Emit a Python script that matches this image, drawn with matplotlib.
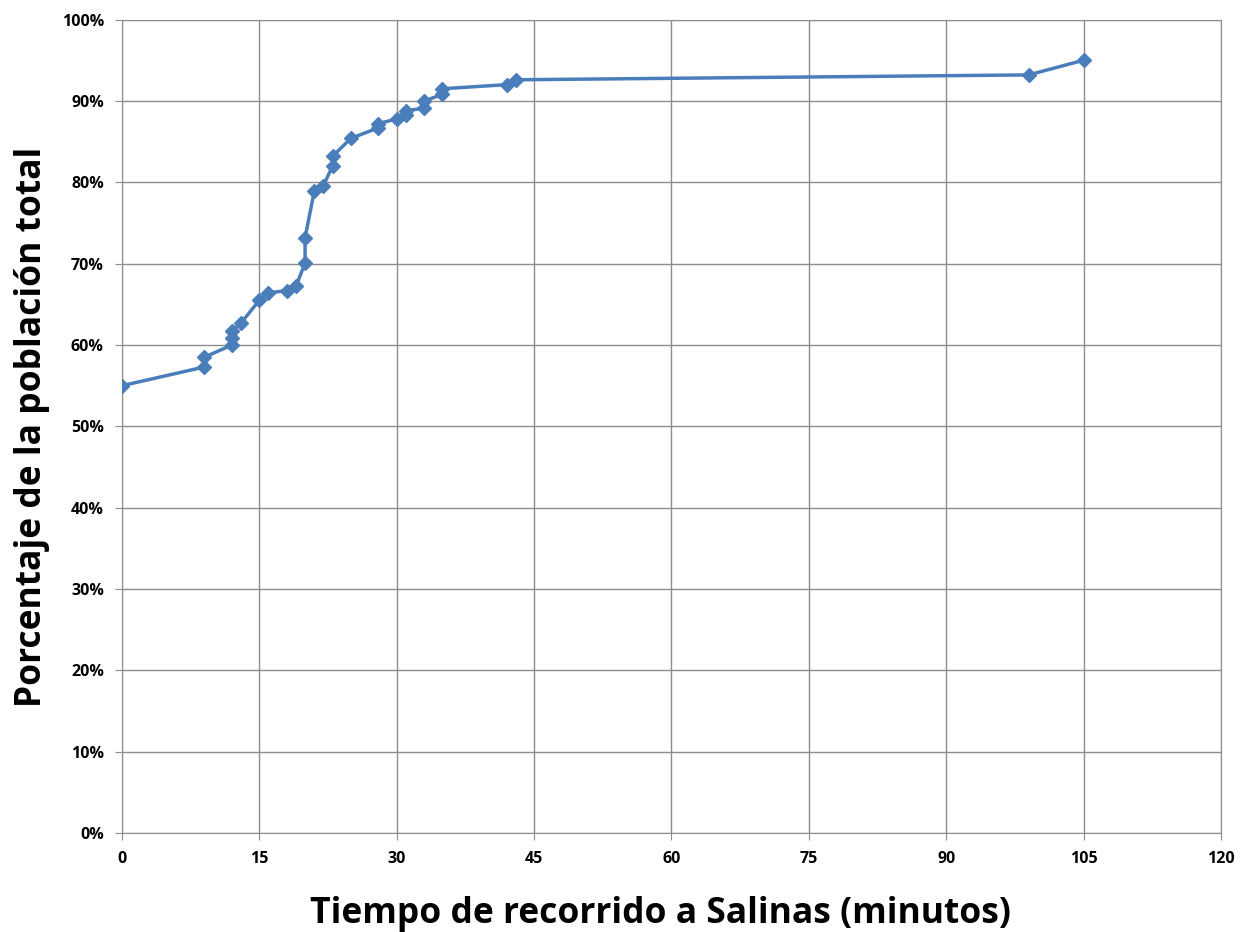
import matplotlib
matplotlib.use("Agg")
import matplotlib.pyplot as plt
from matplotlib.ticker import FuncFormatter

# tiempo de recorrido (min) y porcentaje acumulado de población
minutos = [0, 9, 9, 12, 12, 12, 13, 15, 16, 18, 19, 20, 20, 21, 22, 23, 23,
           25, 28, 28, 30, 31, 31, 33, 33, 35, 35, 42, 43, 99, 105]
porcentaje = [55.0, 57.3, 58.5, 60.0, 60.9, 61.7, 62.7, 65.5, 66.4, 66.7, 67.2,
              70.1, 73.2, 78.9, 79.6, 82.0, 83.2, 85.4, 86.7, 87.2, 87.8, 88.3,
              88.8, 89.1, 90.0, 90.8, 91.5, 92.0, 92.6, 93.2, 95.0]
x_ticks = [0, 15, 30, 45, 60, 75, 90, 105, 120]
y_ticks = [0, 10, 20, 30, 40, 50, 60, 70, 80, 90, 100]

plt.rcParams['font.family'] = ['Open Sans', 'DejaVu Sans']

fig = plt.figure(figsize=(12.44, 9.32), dpi=100)
ax = fig.add_axes([0.098, 0.106, 0.8835, 0.873])

ax.plot(minutos, porcentaje, color="#4a7ebb", lw=2.5, marker="D", ms=7,
        markeredgecolor="#4a7ebb", zorder=3)

ax.set_xlim(0, 120)
ax.set_ylim(0, 100)
ax.set_xticks(x_ticks)
ax.set_yticks(y_ticks)
ax.yaxis.set_major_formatter(FuncFormatter(lambda v, p: f"{int(v)}%"))
ax.grid(True, color="#8c8c8c", lw=1)
ax.set_axisbelow(True)
for s in ax.spines.values():
    s.set_color("#8c8c8c")
ax.tick_params(axis="both", length=5, color="#8c8c8c", labelsize=11.5, pad=8)
for lbl in ax.get_xticklabels() + ax.get_yticklabels():
    lbl.set_fontweight("bold")

ax.set_xlabel("Tiempo de recorrido a Salinas (minutos)", fontsize=25.5,
              fontweight="bold", labelpad=21)
ax.xaxis.label.set_x(0.49)
ax.set_ylabel("Porcentaje de la población total", fontsize=25.5,
              fontweight="bold", labelpad=8)

fig.savefig("out.png", dpi=100)
